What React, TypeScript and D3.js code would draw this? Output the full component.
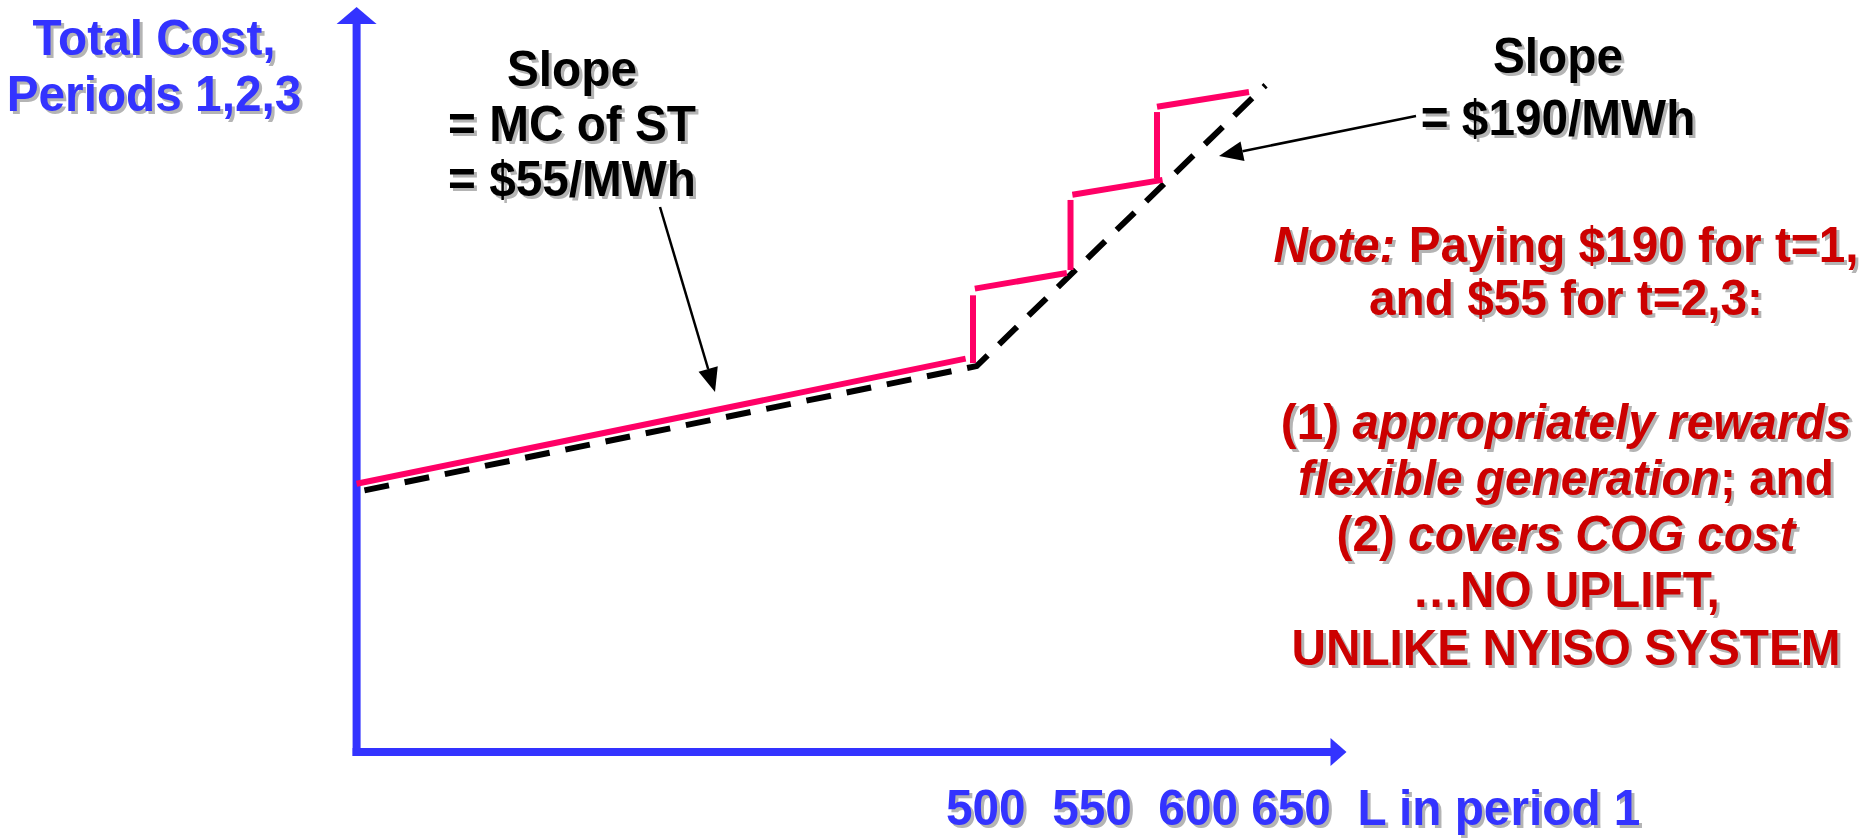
import React from "react";
import * as d3 from "d3";

// Load in period 1 (MWh) and a total-cost index (0–100) for periods 1,2,3
const L_MIN = 165;
const L_MAX = 703;
const COST_MAX = 100;
const quantityTicks = [500, 550, 600, 650];
const xTitle = "L in period 1";
const yTitle = ["Total Cost,", "Periods 1,2,3"];

// System total cost curve (dashed): shallow ST segment, then steep CT segment
const systemCostL = [165, 502, 659];
const systemCostV = [34.9, 51.8, 89.5];

// Payment curve (pink), drawn as separate segments: start and end of each piece
const payStartL = [165, 500, 501, 553, 554, 600, 600];
const payStartV = [36.0, 52.2, 62.2, 64.7, 74.8, 77.0, 86.6];
const payEndL = [496, 500, 551, 553, 603, 600, 650];
const payEndV = [52.8, 61.3, 64.3, 74.1, 76.8, 85.9, 88.6];

const leftSlopeLines = ["Slope", "= MC of ST", "= $55/MWh"];
const rightSlopeLines = ["Slope", "= $190/MWh"];

const W = 1874;
const H = 840;
const BLUE = "#3333FF";
const RED = "#CC0000";
const PINK = "#FF0066";
const SHADOW = "#B4B4B4";
const FONT = "'Liberation Sans', Arial, Helvetica, sans-serif";
const FS = 50;
const SX = 0.955; // slightly condensed glyphs

const x = d3.scaleLinear().domain([500, 650]).range([973, 1249]);
const y = d3.scaleLinear().domain([0, COST_MAX]).range([752, 7]);

type Seg = { text: string; italic?: boolean };

function ShadowText({
  x: tx,
  y: ty,
  fill,
  anchor = "middle",
  children,
}: {
  x: number;
  y: number;
  fill: string;
  anchor?: string;
  children: React.ReactNode;
}) {
  const common = {
    fontFamily: FONT,
    fontWeight: 700,
    fontSize: FS,
    textAnchor: anchor as any,
    style: { whiteSpace: "pre" as const },
  };
  return (
    <g transform={`translate(${tx},${ty}) scale(${SX},1)`}>
      <text x={3 / SX} y={3} fill={SHADOW} {...common}>
        {children}
      </text>
      <text x={0} y={0} fill={fill} {...common}>
        {children}
      </text>
    </g>
  );
}

function RichLine({ segs }: { segs: Seg[] }) {
  return (
    <>
      {segs.map((s, i) => (
        <tspan key={i} fontStyle={s.italic ? "italic" : "normal"}>
          {s.text}
        </tspan>
      ))}
    </>
  );
}

const noteLines: { segs: Seg[]; y: number }[] = [
  { segs: [{ text: "Note:", italic: true }, { text: " Paying $190 for t=1," }], y: 262 },
  { segs: [{ text: "and $55 for t=2,3:" }], y: 315 },
  { segs: [{ text: "(1) " }, { text: "appropriately rewards", italic: true }], y: 439 },
  { segs: [{ text: "flexible generation", italic: true }, { text: "; and" }], y: 495 },
  { segs: [{ text: "(2) " }, { text: "covers COG cost", italic: true }], y: 551 },
  { segs: [{ text: "\u2026NO UPLIFT," }], y: 607 },
  { segs: [{ text: "UNLIKE NYISO SYSTEM" }], y: 665 },
];

function Arrow({ from, to }: { from: [number, number]; to: [number, number] }) {
  const dx = to[0] - from[0];
  const dy = to[1] - from[1];
  const len = Math.hypot(dx, dy);
  const ux = dx / len;
  const uy = dy / len;
  const headLen = 24;
  const half = 10;
  const bx = to[0] - ux * headLen;
  const by = to[1] - uy * headLen;
  const p1 = [bx - uy * half, by + ux * half];
  const p2 = [bx + uy * half, by - ux * half];
  return (
    <g>
      <line x1={from[0]} y1={from[1]} x2={bx} y2={by} stroke="#000" strokeWidth={2.5} />
      <polygon points={`${to[0]},${to[1]} ${p1[0]},${p1[1]} ${p2[0]},${p2[1]}`} fill="#000" />
    </g>
  );
}

export default function App() {
  const x0 = x(L_MIN);
  const yBase = y(0);
  const yTop = y(COST_MAX);
  const xEnd = x(L_MAX);

  const sysPoints: [number, number][] = systemCostL.map((l, i) => [x(l), y(systemCostV[i])]);
  const sysPath = d3.line()(sysPoints) || "";

  const paySegs = payStartL.map((l, i) => ({
    x1: x(l),
    y1: y(payStartV[i]),
    x2: x(payEndL[i]),
    y2: y(payEndV[i]),
  }));

  const xLabelText = `${quantityTicks[0]}  ${quantityTicks[1]}  ${quantityTicks[2]} ${quantityTicks[3]}  ${xTitle}`;

  return (
    <svg
      width={W}
      height={H}
      viewBox={`0 0 ${W} ${H}`}
      style={{ position: "absolute", left: 0, top: 0, background: "#fff" }}
    >
      <rect width={W} height={H} fill="#fff" />

      {/* axes */}
      <line x1={x0} y1={yTop + 16} x2={x0} y2={yBase + 4} stroke={BLUE} strokeWidth={8} />
      <polygon points={`${x0},${yTop} ${x0 - 20},${yTop + 17} ${x0 + 20},${yTop + 17}`} fill={BLUE} />
      <line x1={x0 - 4} y1={yBase} x2={xEnd - 14} y2={yBase} stroke={BLUE} strokeWidth={8} />
      <polygon
        points={`${xEnd},${yBase} ${xEnd - 16},${yBase - 14} ${xEnd - 16},${yBase + 14}`}
        fill={BLUE}
      />

      {/* system cost curve */}
      <path d={sysPath} fill="none" stroke="#000" strokeWidth={6} strokeDasharray="25 16" strokeDashoffset={-8} />

      {/* payment curve */}
      {paySegs.map((s, i) => (
        <line key={i} x1={s.x1} y1={s.y1} x2={s.x2} y2={s.y2} stroke={PINK} strokeWidth={6} />
      ))}

      {/* axis titles */}
      {yTitle.map((t, i) => (
        <ShadowText key={t} x={154} y={55 + i * 56} fill={BLUE}>
          {t}
        </ShadowText>
      ))}
      <ShadowText x={946} y={825} fill={BLUE} anchor="start">
        {xLabelText}
      </ShadowText>

      {/* slope annotations */}
      {leftSlopeLines.map((t, i) => (
        <ShadowText key={t} x={572} y={86 + i * 55} fill="#000">
          {t}
        </ShadowText>
      ))}
      <Arrow from={[660, 207]} to={[715, 392]} />

      {rightSlopeLines.map((t, i) => (
        <ShadowText key={t} x={1558} y={73 + i * 62} fill="#000">
          {t}
        </ShadowText>
      ))}
      <Arrow from={[1416, 116]} to={[1219, 156]} />

      {/* note */}
      {noteLines.map((ln, i) => (
        <ShadowText key={i} x={1566} y={ln.y} fill={RED}>
          <RichLine segs={ln.segs} />
        </ShadowText>
      ))}
    </svg>
  );
}
